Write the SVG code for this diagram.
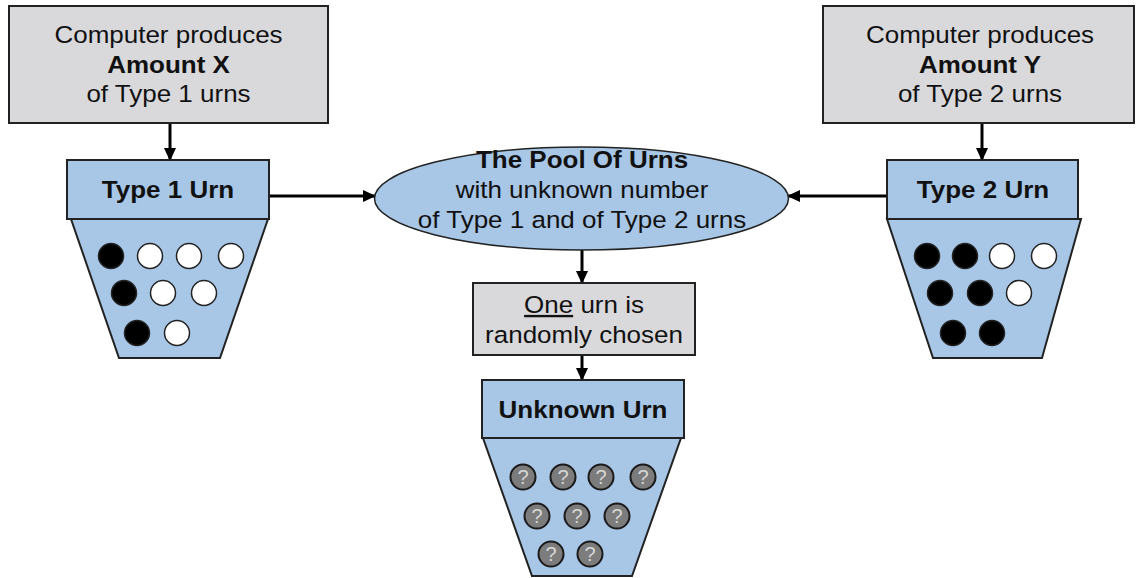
<svg xmlns="http://www.w3.org/2000/svg" width="1137" height="578" viewBox="0 0 1137 578">
<defs>
<marker id="ah" markerWidth="13" markerHeight="12" refX="12" refY="6" orient="auto" markerUnits="userSpaceOnUse">
<path d="M0,0 L13,6 L0,12 Z" fill="#000"/>
</marker>
<style>
.gray{fill:#d9d9dc;stroke:#222;stroke-width:2}
.blue{fill:#a8c6e6;stroke:#222;stroke-width:2}
.t{font-family:"Liberation Sans",Arial,sans-serif;font-size:23.5px;fill:#111;text-anchor:middle}
.b{font-weight:bold}
.bk{fill:#000;stroke:#222;stroke-width:1.5}
.wh{fill:#fff;stroke:#222;stroke-width:1.5}
.q{fill:#7c7c7c;stroke:#1a1a1a;stroke-width:2}
.qt{font-family:"Liberation Sans",Arial,sans-serif;font-size:20px;fill:#d8d8d8;text-anchor:middle}
.c{stroke:#000;stroke-width:3;fill:none}
</style>
</defs>
<rect width="1137" height="578" fill="#fff"/>
<g id="connectors">
<line class="c" x1="170" y1="123" x2="170" y2="160" marker-end="url(#ah)"/>
<line class="c" x1="982" y1="123" x2="982" y2="160" marker-end="url(#ah)"/>
<line class="c" x1="269" y1="196" x2="375" y2="196" marker-end="url(#ah)"/>
<line class="c" x1="887" y1="196" x2="788" y2="196" marker-end="url(#ah)"/>
<line class="c" x1="582" y1="250" x2="582" y2="283" marker-end="url(#ah)"/>
<line class="c" x1="582" y1="355" x2="582" y2="380" marker-end="url(#ah)"/>
</g>
<g id="producer1">
<rect class="gray" x="9" y="6" width="319" height="117"/>
<text class="t" transform="translate(168.5,43) scale(1.106,1)">Computer produces</text>
<text class="t b" transform="translate(168.5,73) scale(1.106,1)">Amount X</text>
<text class="t" transform="translate(168.5,102) scale(1.106,1)">of Type 1 urns</text>
</g>
<g id="producer2">
<rect class="gray" x="823" y="6" width="311" height="117"/>
<text class="t" transform="translate(980,43) scale(1.106,1)">Computer produces</text>
<text class="t b" transform="translate(980,73) scale(1.106,1)">Amount Y</text>
<text class="t" transform="translate(980,102) scale(1.106,1)">of Type 2 urns</text>
</g>
<g id="urn1">
<polygon class="blue" points="71,219 268,219 220,358 119,358"/>
<rect class="blue" x="67" y="160" width="202" height="59"/>
<text class="t b" transform="translate(168,198) scale(1.106,1)">Type 1 Urn</text>
<circle class="bk" cx="111" cy="256" r="12.5"/>
<circle class="wh" cx="150" cy="256" r="12.5"/>
<circle class="wh" cx="189" cy="256" r="12.5"/>
<circle class="wh" cx="231" cy="256" r="12.5"/>
<circle class="bk" cx="124" cy="293" r="12.5"/>
<circle class="wh" cx="163" cy="293" r="12.5"/>
<circle class="wh" cx="204" cy="293" r="12.5"/>
<circle class="bk" cx="137" cy="333" r="12.5"/>
<circle class="wh" cx="177" cy="333" r="12.5"/>
</g>
<g id="urn2">
<polygon class="blue" points="887,219 1081,219 1042,358 933,358"/>
<rect class="blue" x="887" y="160" width="191" height="59"/>
<text class="t b" transform="translate(983,198) scale(1.106,1)">Type 2 Urn</text>
<circle class="bk" cx="927" cy="256" r="12.5"/>
<circle class="bk" cx="965" cy="256" r="12.5"/>
<circle class="wh" cx="1002" cy="256" r="12.5"/>
<circle class="wh" cx="1044" cy="256" r="12.5"/>
<circle class="bk" cx="940" cy="293" r="12.5"/>
<circle class="bk" cx="980" cy="293" r="12.5"/>
<circle class="wh" cx="1019" cy="293" r="12.5"/>
<circle class="bk" cx="953" cy="333" r="12.5"/>
<circle class="bk" cx="992" cy="333" r="12.5"/>
</g>
<g id="pool">
<ellipse class="blue" cx="581.5" cy="198.5" rx="207" ry="51.5" style="stroke-width:1.5"/>
<text class="t b" transform="translate(582,168) scale(1.106,1)">The Pool Of Urns</text>
<text class="t" transform="translate(582,198) scale(1.106,1)">with unknown number</text>
<text class="t" transform="translate(582,228) scale(1.106,1)">of Type 1 and of Type 2 urns</text>
</g>
<g id="choose">
<rect class="gray" x="473" y="283" width="222" height="72"/>
<text class="t" transform="translate(584,313) scale(1.106,1)"><tspan text-decoration="underline">One</tspan> urn is</text>
<text class="t" transform="translate(584,343) scale(1.106,1)">randomly chosen</text>
</g>
<g id="unknown">
<polygon class="blue" points="483,438 681,438 632,576 532,576"/>
<rect class="blue" x="482" y="380" width="202" height="58"/>
<text class="t b" transform="translate(583,418) scale(1.106,1)">Unknown Urn</text>
<circle class="q" cx="523" cy="477" r="12.5"/><text class="qt" x="523" y="484">?</text>
<circle class="q" cx="563" cy="477" r="12.5"/><text class="qt" x="563" y="484">?</text>
<circle class="q" cx="601" cy="477" r="12.5"/><text class="qt" x="601" y="484">?</text>
<circle class="q" cx="643" cy="477" r="12.5"/><text class="qt" x="643" y="484">?</text>
<circle class="q" cx="537" cy="516" r="12.5"/><text class="qt" x="537" y="523">?</text>
<circle class="q" cx="577" cy="516" r="12.5"/><text class="qt" x="577" y="523">?</text>
<circle class="q" cx="617" cy="516" r="12.5"/><text class="qt" x="617" y="523">?</text>
<circle class="q" cx="551" cy="554" r="12.5"/><text class="qt" x="551" y="561">?</text>
<circle class="q" cx="590" cy="554" r="12.5"/><text class="qt" x="590" y="561">?</text>
</g>
</svg>
